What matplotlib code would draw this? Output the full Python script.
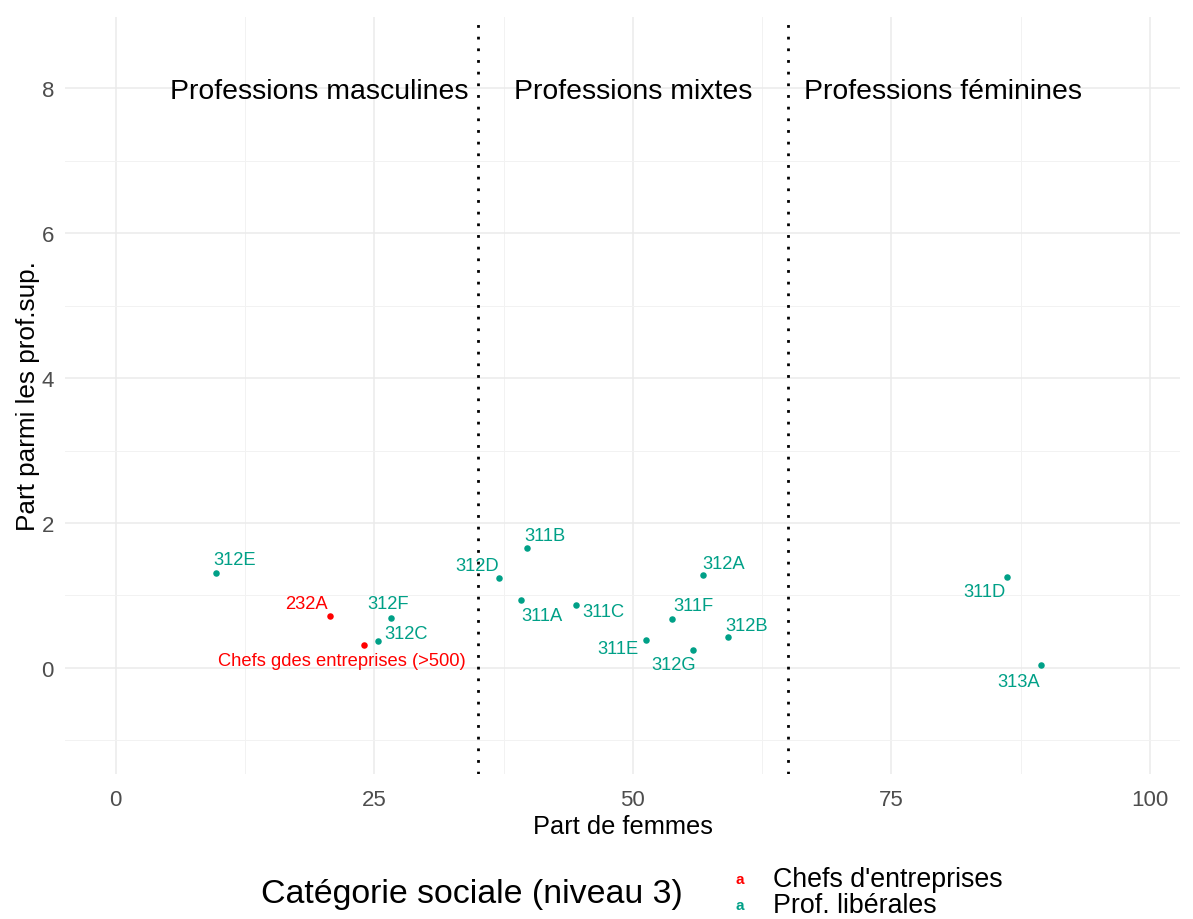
import matplotlib.pyplot as plt
from matplotlib.ticker import MultipleLocator

plt.rcParams["font.family"] = ["Liberation Sans", "DejaVu Sans"]

# data
codes = ["312E", "232A", "Chefs gdes entreprises (>500)", "312F", "312C", "312D",
         "311B", "311A", "311C", "312A", "311F", "312B", "311E", "312G", "311D", "313A"]
part_femmes = [9.7, 20.7, 24.0, 26.6, 25.4, 37.1, 39.8, 39.2, 44.5, 56.8, 53.8,
               59.2, 51.3, 55.8, 86.2, 89.5]
part_profsup = [1.31, 0.72, 0.32, 0.69, 0.37, 1.24, 1.66, 0.94, 0.87, 1.28, 0.68,
                0.43, 0.39, 0.25, 1.26, 0.04]
categorie = ["lib", "chef", "chef", "lib", "lib", "lib", "lib", "lib", "lib", "lib",
             "lib", "lib", "lib", "lib", "lib", "lib"]
zones = ["Professions masculines", "Professions mixtes", "Professions féminines"]
zones_x = [19.7, 50, 80]
seuils = [35, 65]

colors = {"chef": "#FF0000", "lib": "#00A087"}
# label offsets in pixels (repel-like placement)
offsets = [(19, 13), (-23, 12), (-22, -16), (-3, 14), (28, 8), (-22, 13),
           (18, 12), (21, -16), (27, -7), (21, 12), (21, 13), (19, 11),
           (-28, -9), (-19, -15), (-23, -15), (-23, -17)]

fig = plt.figure(figsize=(11.93, 9.2), dpi=100)
ax = fig.add_axes([0.0545, 0.158, 0.9345, 0.822])

for x, y, c, cat, off in zip(part_femmes, part_profsup, codes, categorie, offsets):
    ax.scatter(x, y, s=22, color=colors[cat], zorder=3, linewidths=0)
    ax.annotate(c, (x, y), xytext=off, textcoords="offset pixels",
                ha="center", va="center", fontsize=13.2, color=colors[cat], zorder=4)

for s in seuils:
    ax.axvline(s, color="black", linestyle=(0, (1, 3.2)), linewidth=2, zorder=2)

for z, zx in zip(zones, zones_x):
    ax.text(zx, 8, z, ha="center", va="center_baseline", fontsize=20.4, color="black")

ax.set_xlim(-4.9, 102.9)
ax.set_ylim(-1.46, 8.98)
ax.xaxis.set_major_locator(MultipleLocator(25))
ax.xaxis.set_minor_locator(MultipleLocator(12.5))
ax.yaxis.set_major_locator(MultipleLocator(2))
ax.yaxis.set_minor_locator(MultipleLocator(1))
ax.grid(which="major", color="#ebebeb", linewidth=1.1)
ax.grid(which="minor", color="#f2f2f2", linewidth=0.7)
ax.set_axisbelow(True)
for sp in ax.spines.values():
    sp.set_visible(False)
ax.tick_params(which="both", length=0, labelsize=16, labelcolor="#4d4d4d")
ax.tick_params(axis="x", pad=11)
ax.tick_params(axis="y", pad=8)
ax.set_xlabel("Part de femmes", fontsize=18.3, labelpad=3)
ax.set_ylabel("Part parmi les prof.sup.", fontsize=18.8, labelpad=1)

# legend at bottom
fig.text(472 / 1193, 1 - 895 / 920, "Catégorie sociale (niveau 3)", ha="center", va="center", fontsize=24.4)
fig.text(740 / 1193, 1 - 880 / 920, "a", ha="center", va="center", fontsize=11, color=colors["chef"], fontweight="bold")
fig.text(740 / 1193, 1 - 906 / 920, "a", ha="center", va="center", fontsize=11, color=colors["lib"], fontweight="bold")
fig.text(773 / 1193, 1 - 880 / 920, "Chefs d'entreprises", ha="left", va="center", fontsize=19.3)
fig.text(773 / 1193, 1 - 906 / 920, "Prof. libérales", ha="left", va="center", fontsize=19.3)

fig.savefig("out.png", dpi=100)
